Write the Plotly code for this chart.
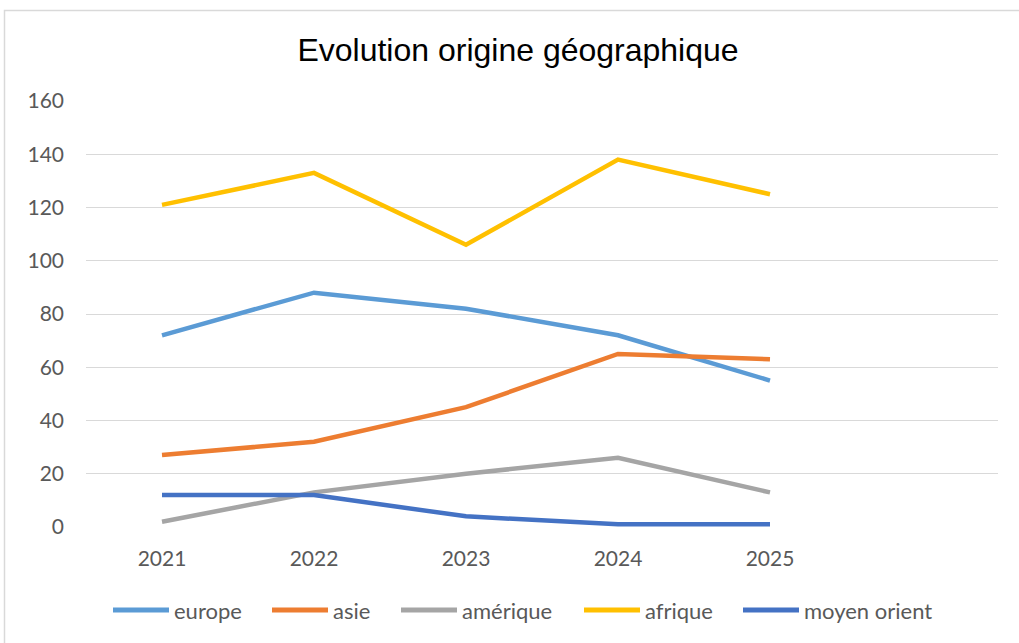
import plotly.graph_objects as go

years = ["2021", "2022", "2023", "2024", "2025"]
europe = [72, 88, 82, 72, 55]
asie = [27, 32, 45, 65, 63]
amerique = [2, 13, 20, 26, 13]
afrique = [121, 133, 106, 138, 125]
moyen_orient = [12, 12, 4, 1, 1]

names = ["europe", "asie", "amérique", "afrique", "moyen orient"]
values = [europe, asie, amerique, afrique, moyen_orient]
colors = ["#5B9BD5", "#ED7D31", "#A5A5A5", "#FFC000", "#4472C4"]

# legend layout (pixel positions of each entry's swatch start)
legend_x = [113, 272, 401, 584, 743]
legend_y = 610
swatch_len = 56

xpos = list(range(len(years)))
fig = go.Figure()
for name, vals, col in zip(names, values, colors):
    fig.add_trace(go.Scatter(x=xpos, y=vals, mode="lines", name=name,
                             line=dict(color=col, width=4.5), showlegend=False))

L, R, T, B = 86, 21, 101, 116
W, H = 1019, 643
pw = W - L - R
ph = H - T - B


def px_x(x):
    return (x - L) / pw


def px_y(y):
    return (H - B - y) / ph


fig.update_layout(
    width=W, height=H,
    margin=dict(l=L, r=R, t=T, b=B),
    paper_bgcolor="white", plot_bgcolor="white",
    title=dict(text="Evolution origine géographique", x=518 / W, xanchor="center",
               y=1 - 50 / H, yanchor="middle",
               font=dict(family="Liberation Sans, Arial", size=32, color="black")),
    xaxis=dict(range=[-0.5, 5.5], tickvals=xpos, ticktext=years,
               showgrid=False, zeroline=False, showline=False, ticks="",
               ticklabelstandoff=17,
               tickfont=dict(family="Lato, Open Sans", size=21, color="#595959")),
    yaxis=dict(range=[0, 160], dtick=20, showgrid=True, gridcolor="#D9D9D9",
               gridwidth=1, zeroline=False, showline=False, ticks="",
               ticklabelstandoff=21,
               tickfont=dict(family="Lato, Open Sans", size=21, color="#595959")),
    showlegend=False,
)

# chart border
fig.add_shape(type="rect", xref="paper", yref="paper",
              x0=px_x(4.5), x1=px_x(W + 5), y0=px_y(H + 5), y1=px_y(10.5),
              line=dict(color="#D9D9D9", width=1.5), fillcolor="rgba(0,0,0,0)",
              layer="below")

# legend
for name, col, lx in zip(names, colors, legend_x):
    fig.add_shape(type="line", xref="paper", yref="paper",
                  x0=px_x(lx), x1=px_x(lx + swatch_len),
                  y0=px_y(legend_y), y1=px_y(legend_y),
                  line=dict(color=col, width=5))
    fig.add_annotation(xref="paper", yref="paper", x=px_x(lx + swatch_len + 3),
                       y=px_y(legend_y), text=name, showarrow=False,
                       xanchor="left", yanchor="middle",
                       font=dict(family="Lato, Open Sans", size=22, color="#595959"))

fig.write_html("out.html",
               config={"displayModeBar": False},
               post_script="document.body.style.margin='0';document.body.style.overflow='hidden';")
